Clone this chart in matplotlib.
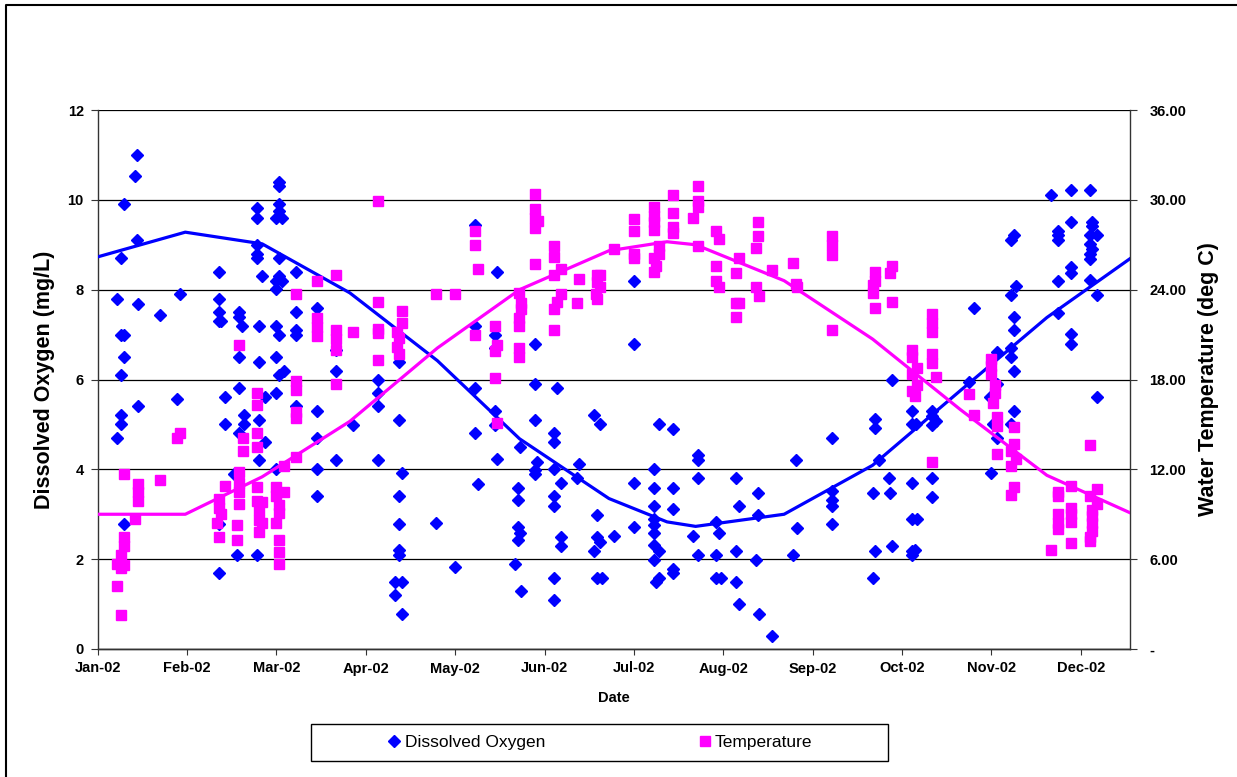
import matplotlib
matplotlib.use('Agg')
import matplotlib.pyplot as plt
from matplotlib.lines import Line2D
from matplotlib.patches import Rectangle

# x positions are in months from the Jan-02 tick (Jan-02 = 0, Dec-02 = 11)
month_labels = ['Jan-02', 'Feb-02', 'Mar-02', 'Apr-02', 'May-02', 'Jun-02',
                'Jul-02', 'Aug-02', 'Sep-02', 'Oct-02', 'Nov-02', 'Dec-02']

do_month = [0.44, 0.42, 0.29, 0.44, 0.26, 0.22, 0.45, 0.70, 0.92, 0.26, 0.29, 0.29, 0.26, 0.45, 0.89,
            0.26, 0.26, 0.22, 0.29, 1.36, 1.36, 1.36, 1.36, 1.38, 1.58, 1.58, 1.62, 1.58, 1.58, 1.42,
            1.42, 1.64, 1.64, 1.58, 1.53, 1.36, 1.56, 1.36, 1.78, 1.78, 1.78, 1.78, 1.78, 1.84, 1.81,
            1.81, 1.87, 1.81, 1.87, 1.81, 1.78, 2.03, 2.03, 2.03, 2.03, 2.00, 2.06, 2.03, 2.03, 2.00,
            2.06, 2.00, 2.00, 2.03, 2.00, 2.03, 2.08, 2.00, 2.00, 2.22, 2.22, 2.22, 2.22, 2.22,
            4.22, 4.47, 2.45, 2.67, 2.67, 3.14, 3.14, 3.14, 3.37, 3.37, 2.45, 2.45, 2.86, 2.67, 3.14,
            2.45, 2.45, 3.40, 3.37, 3.37, 3.37, 3.37, 3.33, 3.40, 3.33, 3.40, 3.78, 4.00, 4.22, 4.22,
            4.22, 4.25, 4.44, 4.44, 4.44, 4.44, 4.47,
            4.89, 4.89, 5.14, 4.89, 5.11, 5.11, 4.73, 4.91, 4.89, 4.89, 5.11, 5.18, 5.39, 5.36, 5.55,
            5.62, 5.11, 5.11, 4.70, 4.70, 4.70, 4.73, 4.70, 4.67, 4.74, 5.18, 5.18, 5.59, 5.59, 5.62,
            5.55, 5.78, 5.11, 5.11, 5.59, 5.64, 6.00, 6.00, 6.00, 6.00, 6.28, 6.44, 6.22, 6.22, 6.22,
            6.22, 6.22, 6.22, 6.22, 6.28, 6.22, 6.28, 6.25, 6.44, 6.44, 6.44, 6.44, 6.72, 6.72, 6.72,
            6.66, 6.72, 6.92, 6.95, 6.92, 6.92, 6.97,
            7.14, 7.17, 7.14, 7.14, 7.18, 7.39, 7.39, 7.36, 7.40, 7.55, 7.81, 7.82, 7.78, 8.22, 8.22,
            8.22, 8.22, 8.22, 8.67, 8.70, 8.70, 8.74, 8.70, 8.67, 8.85, 8.87, 8.89, 8.89, 9.11, 9.11,
            9.16, 9.11, 9.11, 9.17, 9.11, 9.14, 9.11, 9.34, 9.34, 9.38, 9.34, 9.34, 9.34,
            10.67, 10.89, 11.10, 10.89, 11.13, 11.13, 11.18, 11.10, 11.10, 11.13, 11.10, 11.10, 10.74,
            10.74, 10.74, 10.22, 10.25, 10.28, 10.22, 10.74, 10.89, 10.89, 11.10, 11.18, 10.74, 9.81,
            10.25, 10.25, 10.89, 10.89, 10.22, 10.06, 10.22, 10.25, 9.75, 10.06, 9.98, 11.18, 10.25,
            10.02, 10.22, 10.06, 10.00]
do_value = [11.0, 10.54, 9.90, 9.11, 8.71, 7.80, 7.69, 7.43, 7.90, 7.0, 7.0, 6.50, 6.10, 5.41, 5.56,
            5.21, 5.0, 4.70, 2.79, 8.40, 7.80, 7.5, 7.3, 7.3, 7.5, 7.4, 7.2, 6.5, 5.82, 5.6,
            5.0, 5.2, 5.0, 4.81, 3.9, 2.79, 2.1, 1.70, 9.81, 9.59, 9.0, 8.8, 8.7, 8.31, 7.2,
            6.4, 5.6, 5.1, 4.6, 4.2, 2.1, 10.4, 10.3, 9.9, 9.75, 9.6, 9.6, 8.71, 8.3, 8.2,
            8.2, 8.01, 7.2, 7.0, 6.5, 6.1, 6.2, 5.7, 4.0, 8.4, 7.5, 7.1, 7.0, 5.4,
            9.45, 8.40, 7.60, 6.66, 6.20, 6.00, 5.70, 5.41, 6.38, 5.10, 5.30, 4.70, 4.98, 4.20, 4.20,
            4.0, 3.40, 3.91, 3.40, 2.79, 2.21, 2.10, 1.49, 1.49, 1.20, 0.79, 2.81, 1.83, 7.20, 5.80,
            4.81, 3.67, 7.0, 6.70, 5.30, 4.98, 4.23,
            6.79, 5.90, 5.80, 5.10, 4.81, 4.60, 4.50, 4.17, 3.99, 3.89, 4.0, 3.69, 4.11, 3.80, 5.21,
            5.0, 3.40, 3.19, 3.59, 3.31, 2.71, 2.59, 2.43, 1.90, 1.30, 2.50, 2.29, 2.99, 2.50, 2.39,
            2.19, 2.51, 1.59, 1.09, 1.59, 1.59, 8.19, 6.79, 3.69, 2.71, 5.0, 4.90, 4.0, 3.59, 3.19,
            2.89, 2.75, 2.59, 2.31, 2.19, 1.99, 1.59, 1.49, 3.59, 3.11, 1.79, 1.70, 4.31, 4.20, 3.80,
            2.51, 2.10, 2.83, 2.59, 2.10, 1.59, 1.59,
            3.80, 3.19, 2.19, 1.49, 1.0, 3.48, 2.99, 1.99, 0.79, 0.30, 4.20, 2.69, 2.10, 4.70, 3.51,
            3.31, 3.19, 2.79, 3.48, 5.13, 4.92, 4.20, 2.19, 1.59, 3.80, 3.48, 2.30, 6.00, 5.30, 5.0,
            5.0, 3.69, 2.89, 2.89, 2.19, 2.21, 2.10, 5.30, 5.18, 5.08, 4.98, 3.80, 3.39,
            10.10, 10.21, 10.21, 9.50, 9.50, 9.41, 9.21, 9.21, 9.01, 8.91, 8.79, 8.69, 9.31,
            9.21, 9.10, 9.10, 9.21, 8.09, 7.89, 8.19, 8.51, 8.37, 8.21, 7.89, 7.49, 7.60,
            7.39, 7.10, 7.02, 6.79, 6.70, 6.62, 6.50, 6.20, 5.94, 5.90, 5.61, 5.61, 5.30,
            5.0, 5.0, 4.70, 3.91]

temp_month = [0.26, 0.22, 0.22, 0.26, 0.29, 0.26, 0.29, 0.29, 0.29, 0.45, 0.45, 0.45, 0.42, 0.70, 0.89,
              0.92, 1.36, 1.36, 1.38, 1.42, 1.33, 1.36, 1.56, 1.56, 1.58, 1.58, 1.58, 1.58, 1.58, 1.63,
              1.63, 1.78, 1.78, 1.78, 1.78, 1.78, 1.78, 1.84, 1.81, 1.81, 1.84, 1.81, 2.09, 2.00, 2.09,
              2.00, 2.03, 2.03, 2.00, 2.03, 2.03, 2.03, 2.22, 2.22, 2.22, 2.22, 2.22, 2.22,
              3.14, 2.45, 2.67, 2.45, 2.45, 2.45, 2.67, 2.67, 2.67, 2.67, 2.86, 3.14, 3.14, 3.14, 3.14,
              3.40, 3.40, 3.35, 3.37, 3.35, 3.37, 3.78, 4.00, 4.22, 4.22, 4.25, 4.22, 4.44, 4.47, 4.44,
              4.44, 4.47,
              4.89, 4.89, 4.89, 4.93, 4.89, 4.89, 4.71, 4.74, 4.74, 4.71, 4.71, 4.71, 4.71, 5.11, 5.11,
              5.11, 5.18, 5.18, 5.14, 5.11, 5.11, 5.39, 5.36, 5.59, 5.62, 5.59, 5.62, 5.57, 5.59, 5.78,
              6.00, 6.00, 6.00, 6.00, 6.22, 6.22, 6.22, 6.22, 6.28, 6.28, 6.22, 6.25, 6.22, 6.44, 6.44,
              6.44, 6.44, 6.72, 6.72, 6.72, 6.66, 6.72, 6.92, 6.95, 6.92, 6.92, 6.95,
              7.39, 7.39, 7.36, 7.17, 7.14, 7.36, 7.40, 7.14, 7.18, 7.14, 7.55, 7.78, 7.81, 7.82, 8.22,
              8.22, 8.22, 8.22, 8.70, 8.70, 8.67, 8.67, 8.70, 8.89, 8.86, 8.89, 9.11, 9.11, 9.17, 9.11,
              9.17, 9.11, 9.14, 9.34, 9.34, 9.34, 9.34, 9.34, 9.38, 9.34,
              10.00, 10.00, 10.00, 10.04, 10.04, 10.02, 10.06, 10.06, 10.06, 9.75, 9.81, 10.25, 10.25,
              10.22, 10.28, 10.22, 10.25, 10.22, 10.74, 10.74, 10.74, 10.74, 10.74, 10.67, 10.89, 10.89,
              10.89, 10.89, 10.89, 11.10, 11.18, 11.10, 11.18, 11.13, 11.13, 11.13, 11.13, 11.10, 11.10]
temp_value = [2.3, 4.2, 5.7, 5.4, 5.6, 6.3, 6.9, 7.5, 11.7, 11.0, 10.5, 9.9, 8.7, 11.3, 14.1,
              14.4, 10.0, 9.4, 9.0, 10.9, 8.4, 7.5, 8.3, 7.3, 20.3, 11.8, 11.1, 10.5, 9.7, 14.1,
              13.2, 17.1, 16.3, 14.4, 13.5, 10.8, 9.9, 9.8, 9.3, 8.6, 8.4, 7.8, 12.2, 10.8, 10.5,
              10.2, 9.6, 9.1, 8.4, 7.3, 6.5, 5.7, 23.7, 17.9, 17.3, 15.8, 15.4, 12.8,
              29.9, 24.6, 25.0, 22.1, 21.5, 20.9, 21.3, 20.7, 20.0, 17.7, 21.2, 23.2, 21.4, 21.1, 19.3,
              22.6, 21.8, 21.2, 20.8, 20.2, 19.7, 23.7, 23.7, 27.9, 27.0, 25.4, 21.0, 21.6, 20.3, 19.9,
              18.1, 15.1,
              30.4, 29.4, 28.8, 28.6, 28.1, 25.7, 23.8, 23.1, 22.7, 22.1, 21.6, 20.1, 19.5, 26.9, 26.2,
              25.0, 25.4, 23.7, 23.2, 22.7, 21.3, 24.7, 23.1, 25.0, 25.0, 24.5, 24.2, 23.7, 23.4, 26.7,
              28.7, 27.9, 26.4, 26.1, 29.5, 28.9, 28.5, 28.0, 26.9, 26.4, 26.1, 25.6, 25.2, 30.3, 29.1,
              28.2, 27.8, 30.9, 29.9, 29.5, 28.8, 26.9, 27.9, 27.4, 25.6, 24.6, 24.2,
              28.5, 27.6, 26.8, 26.1, 25.1, 24.2, 23.6, 23.1, 23.1, 22.2, 25.3, 25.8, 24.4, 24.2, 27.6,
              27.0, 26.3, 21.3, 25.2, 24.6, 24.3, 23.8, 22.8, 25.6, 25.1, 23.2, 20.0, 19.5, 18.8, 18.4,
              17.6, 17.2, 16.9, 22.4, 21.8, 21.2, 19.7, 19.1, 18.2, 12.5,
              19.4, 18.9, 18.4, 17.6, 17.1, 16.4, 15.5, 14.9, 13.0, 17.0, 15.6, 14.8, 13.7,
              13.2, 12.7, 12.2, 10.8, 10.3, 10.5, 10.2, 9.0, 8.4, 8.0, 6.6, 10.9, 9.4,
              9.0, 8.5, 7.1, 13.6, 10.7, 10.2, 9.7, 9.3, 8.9, 8.4, 7.9, 7.5, 7.2]

# monthly trend lines
trend_month = [0, 0.98, 1.84, 2.82, 3.8, 4.72, 5.72, 6.37, 6.69, 7.68, 8.67, 9.65, 10.62, 11.55]
do_trend = [8.73, 9.28, 9.02, 7.93, 6.42, 4.68, 3.35, 2.83, 2.73, 3.0, 4.09, 5.75, 7.38, 8.69]
temp_trend = [9.0, 9.0, 11.5, 15.2, 20.1, 24.0, 26.6, 27.2, 27.0, 24.6, 20.7, 16.0, 11.6, 9.1]

plt.rcParams['font.family'] = 'Liberation Sans'

W, H = 1237, 777
fig = plt.figure(figsize=(W / 100, H / 100), dpi=100)
ax = fig.add_axes([97.7 / W, 1 - 649 / H, (1130 - 97.7) / W, (649 - 110) / H])
ax2 = ax.twinx()

ax.grid(axis='y', color='black', linewidth=0.9)
ax.set_axisbelow(True)
ax.plot(do_month, do_value, ls='none', marker='D', ms=6.5, color='#0000FF', mec='#0000FF', zorder=3)
ax.plot(trend_month, do_trend, color='#0000FF', lw=2.3, zorder=4)

ax2.plot(temp_month, temp_value, ls='none', marker='s', ms=7.5, color='#FF00FF', mec='#FF00FF', zorder=3)
ax2.plot(trend_month, temp_trend, color='#FF00FF', lw=2.3, zorder=4)

ax.set_xlim(0, 11.55)
ax.set_xticks(range(12))
ax.set_xticklabels(month_labels)
ax.set_ylim(0, 12)
ax.set_yticks(range(0, 13, 2))
ax2.set_ylim(0, 36)
ax2.set_yticks(range(0, 37, 6))
ax2.set_yticklabels(['-'] + [f'{v:.2f}' for v in range(6, 37, 6)])

for a in (ax, ax2):
    a.spines['top'].set_visible(False)
    for s in a.spines.values():
        s.set_color('#333333')
        s.set_linewidth(1.0)
    for lab in a.get_xticklabels() + a.get_yticklabels():
        lab.set_fontweight('bold')
ax2.spines['left'].set_visible(False)
ax.spines['right'].set_visible(False)

ax.tick_params(axis='x', direction='out', length=4, pad=5, labelsize=10.5, color='#333333')
ax.tick_params(axis='y', direction='out', length=5, pad=5, labelsize=10.5, color='#333333')
ax2.tick_params(axis='y', direction='out', length=5, pad=9, labelsize=10.5, color='#333333')

ax.set_xlabel('Date', fontsize=10.5, fontweight='bold')
ax.xaxis.set_label_coords(0.5, -0.078)
ax.set_ylabel('Dissolved Oxygen (mg/L)', fontsize=15.5, fontweight='bold')
ax.yaxis.set_label_coords(-0.041, 0.5)
ax2.set_ylabel('Water Temperature (deg C)', fontsize=15.5, fontweight='bold', rotation=90)
ax2.yaxis.set_label_coords(1.066, 0.5)

# legend box and entries
fig.add_artist(Rectangle((311 / W, 1 - 761 / H), 577 / W, 37 / H, transform=fig.transFigure,
                         fill=False, edgecolor='black', linewidth=1.0))
handles = [Line2D([], [], ls='none', marker='D', ms=6.5, color='#0000FF'),
           Line2D([], [], ls='none', marker='s', ms=7.5, color='#FF00FF')]
fig.legend(handles, ['Dissolved Oxygen', 'Temperature'], loc='center',
           bbox_to_anchor=(599 / W, 1 - 742.5 / H), ncol=2, frameon=False, fontsize=12.5,
           columnspacing=8.7, handletextpad=0.1, handlelength=1.0)

# outer chart border (left and top edges visible)
fig.add_artist(Line2D([6 / W, 6 / W, 1.0], [0, 1 - 5 / H, 1 - 5 / H], transform=fig.transFigure,
                      color='black', linewidth=1.5))

fig.savefig('out.png', dpi=100)
